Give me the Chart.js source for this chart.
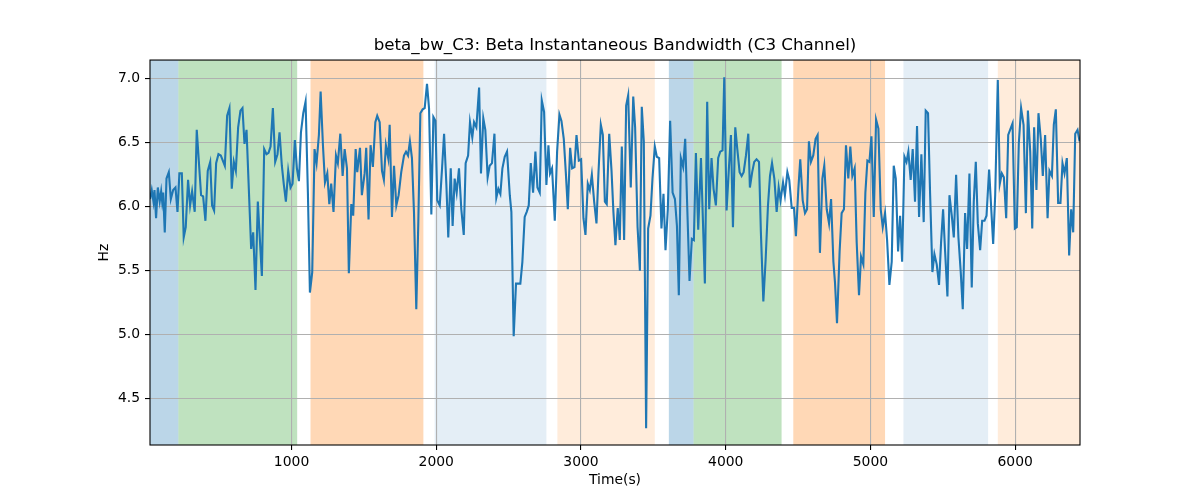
<!DOCTYPE html>
<html>
<head>
<meta charset="utf-8">
<script src="https://cdn.jsdelivr.net/npm/chart.js@4.4.0/dist/chart.umd.min.js"></script>
<style>
  body { margin: 0; background: #fff; }
</style>
</head>
<body>
<canvas id="myChart" width="1200" height="500"></canvas>
<script>
// time axis (s) and beta bandwidth (Hz)
var timeSec = [
  22.6, 34, 46, 53, 64, 76, 89, 99, 106, 113, 124, 136, 152, 166, 182, 198, 212, 225, 242, 255,
  269, 285, 299, 313, 331, 345, 375, 389, 405, 421, 438, 451, 465, 479, 495, 511, 539, 555, 571, 587,
  601, 615, 631, 647, 661, 675, 689, 721, 735, 751, 767, 795, 811, 827, 841, 855,
  871, 887, 903, 917, 933, 947, 961, 977, 993, 1007, 1023, 1037, 1051, 1065, 1081, 1097, 1113, 1127, 1143, 1159,
  1173, 1189, 1201, 1217, 1231, 1247, 1261, 1274, 1290, 1307, 1320, 1337, 1353, 1367, 1383, 1396, 1413, 1426, 1443, 1454,
  1473, 1486, 1505, 1516, 1532, 1546, 1562, 1579, 1592, 1609, 1625, 1638, 1652, 1668, 1678,
  1694, 1708, 1724, 1740, 1758, 1777, 1791, 1805, 1818, 1832, 1846, 1862, 1876, 1890, 1906, 1920, 1936, 1950, 1966, 1980,
  1994, 2007, 2024, 2040, 2054, 2070, 2083, 2100, 2113, 2127, 2141, 2157, 2173, 2190, 2203, 2220, 2233, 2249, 2261, 2277,
  2296, 2309, 2325, 2339, 2355, 2369, 2385, 2402, 2415, 2429, 2443, 2457, 2473, 2489, 2508,
  2519, 2535, 2551, 2581, 2595, 2611, 2625, 2639, 2653, 2669, 2685, 2699, 2715, 2729, 2745, 2761, 2775, 2786, 2800, 2819,
  2835, 2851, 2865, 2881, 2895, 2909, 2925, 2939, 2955, 2969, 2985, 3001, 3017, 3031, 3047, 3061, 3075, 3091, 3107, 3121,
  3137, 3151, 3165, 3178, 3195, 3211, 3224, 3238, 3254, 3268, 3282, 3298, 3312, 3326,
  3344, 3361, 3374, 3391, 3407, 3420, 3434, 3450, 3464, 3480, 3494, 3510, 3524, 3540, 3556, 3570, 3584, 3600, 3616, 3633,
  3649, 3663, 3676, 3690, 3706, 3720, 3736, 3750, 3766, 3780, 3794, 3810, 3829, 3856, 3872, 3886, 3902, 3916, 3932, 3948,
  3962, 3978, 3990, 4006, 4022, 4036, 4050, 4066, 4080, 4096, 4110, 4124, 4140, 4156, 4167,
  4183, 4197, 4213, 4230, 4243, 4260, 4276, 4292, 4306, 4320, 4336, 4352, 4366, 4379, 4396, 4409, 4426, 4439, 4456, 4472,
  4485, 4502, 4515, 4532, 4548, 4562, 4575, 4589, 4605, 4621, 4635, 4651, 4668, 4681, 4698, 4714, 4728, 4744, 4755, 4769,
  4787, 4801, 4817, 4831, 4847, 4861, 4875, 4891, 4905, 4921, 4935, 4951, 4965, 4979,
  4993, 5007, 5023, 5039, 5055, 5071, 5085, 5101, 5115, 5131, 5147, 5161, 5175, 5191, 5205, 5219, 5235, 5249, 5262, 5278,
  5292, 5308, 5322, 5336, 5352, 5368, 5382, 5398, 5412, 5428, 5442, 5458, 5474, 5488, 5502, 5516, 5532, 5546, 5562, 5576,
  5592, 5608, 5624, 5638, 5654, 5668, 5684, 5700, 5714, 5728, 5742, 5758, 5772, 5788, 5802, 5820,
  5832, 5848, 5862, 5880, 5894, 5908, 5922, 5938, 5952, 5965, 5982, 5998, 6011, 6025, 6041, 6058, 6074, 6088, 6104, 6118,
  6131, 6147, 6161, 6177, 6191, 6207, 6224, 6237, 6254, 6267, 6281, 6297, 6313, 6327, 6341, 6357, 6373, 6387, 6401, 6415,
  6431, 6445
];
var betaBw = [
  6.06, 6.13, 6.04, 6.13, 5.91, 6.15, 6.04, 6.12, 6.04, 6.11, 5.80, 6.22, 6.27, 6.06, 6.13, 6.15, 5.96, 6.26, 6.26, 5.76,
  5.84, 6.21, 6.01, 6.12, 5.96, 6.60, 6.09, 6.08, 5.89, 6.28, 6.35, 6.01, 5.97, 6.34, 6.41, 6.40, 6.32, 6.71, 6.77, 6.14,
  6.35, 6.28, 6.62, 6.75, 6.77, 6.49, 6.60, 5.67, 5.80, 5.35, 6.04, 5.46, 6.45, 6.41, 6.42, 6.47,
  6.77, 6.35, 6.41, 6.58, 6.32, 6.17, 6.04, 6.28, 6.15, 6.18, 6.52, 6.30, 6.20, 6.58, 6.73, 6.82, 6.11, 5.33, 5.49, 6.45,
  6.34, 6.56, 6.90, 6.48, 6.19, 6.26, 6.02, 6.18, 5.96, 6.40, 6.34, 6.57, 6.24, 6.45, 6.30, 5.48, 6.02, 5.93, 6.45, 6.27,
  6.46, 6.09, 6.26, 6.46, 5.90, 6.48, 6.31, 6.66, 6.71, 6.66, 6.28, 6.21, 6.48, 6.38, 6.64,
  5.92, 6.32, 6.01, 6.09, 6.27, 6.40, 6.43, 6.40, 6.51, 6.38, 5.96, 5.20, 5.88, 6.73, 6.76, 6.77, 6.96, 6.77, 5.94, 6.70,
  6.67, 6.05, 6.01, 6.30, 6.57, 6.17, 5.76, 6.30, 5.85, 6.22, 6.11, 6.30, 5.98, 5.78, 6.34, 6.40, 6.66, 6.54, 6.66, 6.62,
  6.93, 6.26, 6.69, 6.60, 6.23, 6.32, 6.34, 6.57, 6.07, 6.14, 6.10, 6.30, 6.39, 6.43, 6.09,
  5.96, 4.99, 5.40, 5.40, 5.57, 5.92, 5.96, 6.01, 6.34, 6.11, 6.43, 6.15, 6.11, 6.83, 6.74, 6.17, 6.48, 6.26, 6.30, 5.89,
  6.43, 6.72, 6.67, 6.53, 6.27, 5.98, 6.46, 6.30, 6.31, 6.56, 6.36, 6.37, 5.91, 5.78, 6.18, 6.13, 6.25, 6.04, 5.87, 6.27,
  6.64, 6.56, 6.04, 6.02, 6.57, 6.28, 5.96, 5.70, 5.99, 5.74, 6.47, 5.74, 6.79, 6.87,
  6.15, 6.86, 6.62, 5.84, 5.50, 6.78, 6.51, 4.27, 5.83, 5.93, 6.22, 6.47, 6.39, 6.38, 5.83, 6.10, 5.66, 5.98, 6.67, 6.11,
  6.06, 5.85, 5.31, 6.38, 6.31, 6.53, 5.93, 5.42, 5.75, 5.74, 6.42, 5.82, 6.38, 5.40, 6.82, 5.98, 6.38, 6.14, 6.01, 6.38,
  6.43, 6.44, 7.01, 5.97, 6.30, 6.56, 5.84, 6.62, 6.45, 6.27, 6.24, 6.27, 6.40, 6.57, 6.15,
  6.27, 6.35, 6.37, 6.35, 5.80, 5.26, 5.59, 6.01, 6.24, 6.34, 6.22, 5.96, 6.15, 6.05, 6.19, 6.09, 6.27, 6.21, 5.99, 5.99,
  5.77, 6.14, 6.37, 6.05, 5.95, 5.98, 6.51, 6.35, 6.40, 6.53, 6.56, 5.64, 6.22, 6.32, 5.98, 5.87, 6.06, 5.57, 5.41, 5.09,
  5.65, 5.95, 5.98, 6.48, 6.22, 6.47, 6.24, 6.30, 5.72, 5.31, 5.61, 5.55, 6.11, 6.36,
  6.35, 6.55, 5.92, 6.68, 6.61, 5.98, 5.84, 5.95, 5.74, 5.39, 5.57, 6.32, 6.22, 5.65, 5.93, 5.57, 6.39, 6.35, 6.43, 6.21,
  6.45, 6.04, 6.63, 5.92, 6.41, 5.88, 6.75, 6.73, 6.11, 5.49, 5.63, 5.55, 5.39, 5.72, 5.98, 5.65, 5.30, 6.09, 5.93, 5.76,
  6.25, 5.76, 5.49, 5.20, 5.95, 5.67, 6.26, 5.37, 6.04, 6.35, 5.87, 5.66, 5.89, 5.89, 5.93, 6.29,
  6.04, 5.71, 6.09, 6.99, 6.18, 6.26, 6.23, 5.91, 6.56, 6.60, 6.65, 5.83, 5.84, 6.49, 6.77, 6.64, 5.95, 6.75, 6.43, 5.83,
  6.62, 6.13, 6.73, 6.53, 6.24, 6.56, 5.91, 6.28, 6.24, 6.64, 6.76, 6.03, 6.03, 6.34, 6.26, 6.38, 5.62, 5.98, 5.80, 6.57,
  6.60, 6.51
];

// shaded stage spans
var spanStart = [22, 218, 1131, 1989, 2837, 3607, 3778, 4467, 5228, 5880];
var spanEnd   = [218, 1039, 1911, 2761, 3510, 3778, 4386, 5101, 5813, 6448];
var spanColor = [
  'rgba(31,119,180,0.3)', 'rgba(44,160,44,0.3)', 'rgba(255,127,14,0.3)', 'rgba(31,119,180,0.12)', 'rgba(255,127,14,0.15)',
  'rgba(31,119,180,0.3)', 'rgba(44,160,44,0.3)', 'rgba(255,127,14,0.3)', 'rgba(31,119,180,0.12)', 'rgba(255,127,14,0.15)'
];

var xTicks = [1000, 2000, 3000, 4000, 5000, 6000];
var yTicks = [4.5, 5.0, 5.5, 6.0, 6.5, 7.0];

var points = timeSec.map(function (t, i) { return { x: t, y: betaBw[i] }; });

var spansPlugin = {
  id: 'spans',
  beforeDraw: function (chart) {
    var c = chart.ctx, a = chart.chartArea, xs = chart.scales.x;
    c.save();
    for (var i = 0; i < spanStart.length; i++) {
      var x0 = Math.max(xs.getPixelForValue(spanStart[i]), a.left);
      var x1 = Math.min(xs.getPixelForValue(spanEnd[i]), a.right);
      c.fillStyle = spanColor[i];
      c.fillRect(x0, a.top, x1 - x0, a.bottom - a.top);
    }
    c.restore();
  },
  afterDatasetsDraw: function (chart) {
    var c = chart.ctx, a = chart.chartArea;
    c.save();
    c.strokeStyle = '#000';
    c.lineWidth = 1.1;
    c.strokeRect(a.left, a.top, a.right - a.left, a.bottom - a.top);
    c.restore();
  }
};

var font = 'DejaVu Sans';
var ctx = document.getElementById('myChart').getContext('2d');

var myChart = new Chart(ctx, {
  type: 'line',
  data: {
    datasets: [{
      label: 'beta_bw_C3',
      data: points,
      borderColor: '#1f77b4',
      borderWidth: 2.1,
      pointRadius: 0,
      tension: 0,
      fill: false
    }]
  },
  options: {
    responsive: false,
    animation: false,
    layout: { padding: { left: 0, right: 120, top: 0, bottom: 0 } },
    plugins: {
      legend: { display: false },
      tooltip: { enabled: false },
      title: {
        display: true,
        text: 'beta_bw_C3: Beta Instantaneous Bandwidth (C3 Channel)',
        color: '#000',
        fullSize: false,
        font: { family: font, size: 16.7, weight: 'normal' },
        padding: { top: 36, bottom: 4 }
      }
    },
    scales: {
      x: {
        type: 'linear',
        min: 22,
        max: 6448,
        afterBuildTicks: function (s) { s.ticks = xTicks.map(function (v) { return { value: v }; }); },
        afterFit: function (s) { s.height = 55; },
        grid: { color: '#b0b0b0', lineWidth: 1.1, tickColor: '#000', tickWidth: 1.1, tickLength: 5 },
        border: { display: false },
        ticks: {
          color: '#000', padding: 4, maxRotation: 0, font: { family: font, size: 13.9 },
          callback: function (v) { return String(v); }
        },
        title: { display: true, text: 'Time(s)', color: '#000', font: { family: font, size: 13.9 }, padding: { top: 0, bottom: 11.5 } }
      },
      y: {
        min: 4.14,
        max: 7.145,
        afterBuildTicks: function (s) { s.ticks = yTicks.map(function (v) { return { value: v }; }); },
        afterFit: function (s) { s.width = 150; },
        grid: { color: '#b0b0b0', lineWidth: 1.1, tickColor: '#000', tickWidth: 1.1, tickLength: 5 },
        border: { display: false },
        ticks: {
          color: '#000', padding: 5, font: { family: font, size: 13.9 },
          callback: function (v) { return v.toFixed(1); }
        },
        title: { display: true, text: 'Hz', color: '#000', font: { family: font, size: 13.9 }, padding: { top: 96.5, bottom: 0 } }
      }
    }
  },
  plugins: [spansPlugin]
});
</script>
</body>
</html>
